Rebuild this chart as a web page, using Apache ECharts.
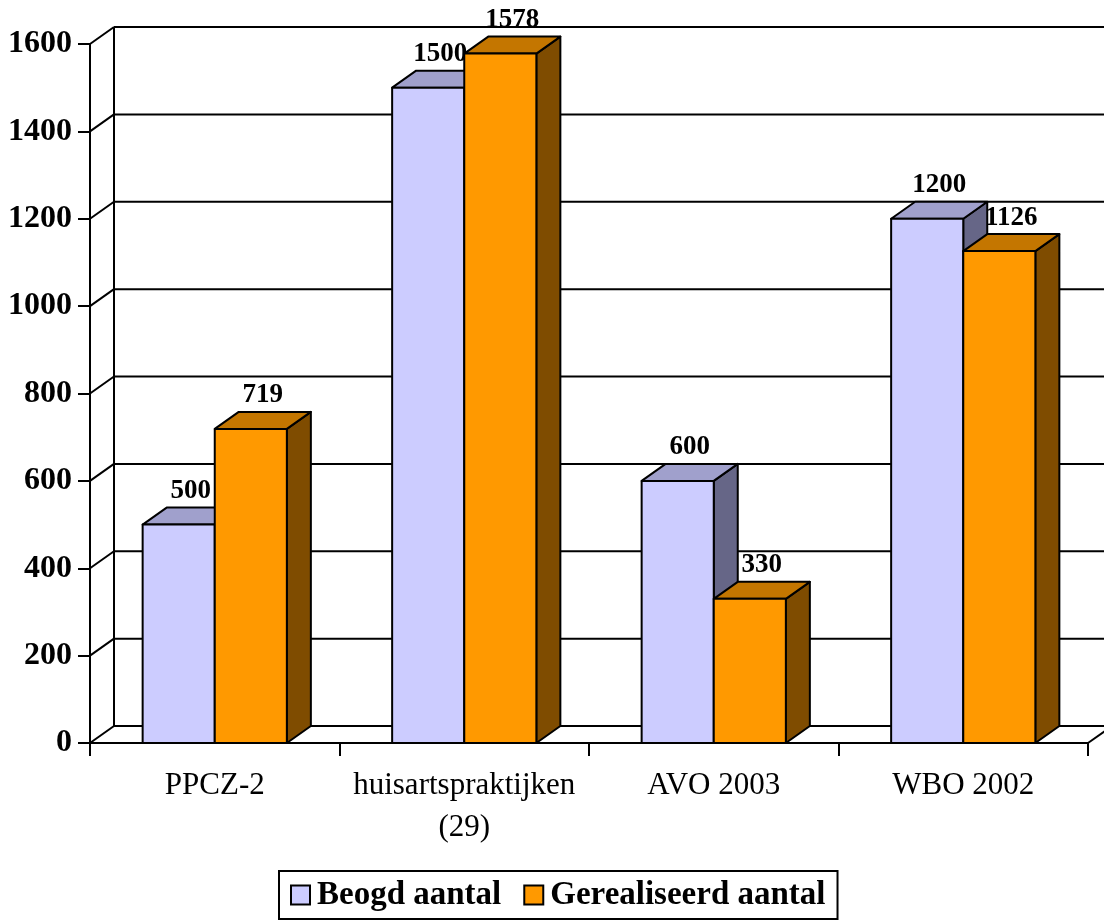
<!DOCTYPE html>
<html>
<head>
<meta charset="utf-8">
<script src="https://cdn.jsdelivr.net/npm/echarts@6/dist/echarts.min.js"></script>
<style>
  html, body { margin: 0; padding: 0; background: #ffffff; }
  #chart { width: 1104px; height: 920px; }
</style>
</head>
<body>
<div id="chart"></div>
<script>
// Categories and values
const categories = ['PPCZ-2', 'huisartspraktijken\n(29)', 'AVO 2003', 'WBO 2002'];
const beoogdAantal = [500, 1500, 600, 1200];
const gerealiseerdAantal = [719, 1578, 330, 1126];
const seriesNames = ['Beogd aantal', 'Gerealiseerd aantal'];
const yMin = 0;
const yMax = 1600;
const yStep = 200;

// Styling for the pseudo-3D look
const FONT = "'Liberation Serif', 'Times New Roman', serif";
const DEPTH_X = 24;     // depth offset of the back wall / bar backs, in px
const DEPTH_Y = -17;
const BAR_RATIO = 0.289; // bar width relative to the category band
const LINE_W = 2;

const palettes = [
  { front: '#CCCCFF', top: '#A0A0CC', side: '#666687' },
  { front: '#FF9900', top: '#C47600', side: '#7F4C00' }
];

const chart = echarts.init(document.getElementById('chart'), null, { renderer: 'canvas' });

// Back wall, left side wall and floor of the 3D frame
function renderFrame(params, api) {
  const cs = params.coordSys;
  const L = cs.x, R = cs.x + cs.width;
  const children = [];
  const line = (x1, y1, x2, y2) => ({
    type: 'line',
    shape: { x1, y1, x2, y2 },
    style: { stroke: '#000', lineWidth: LINE_W }
  });
  const yTop = api.coord([0, yMax])[1];
  const yBot = api.coord([0, yMin])[1];
  for (let v = yMin; v <= yMax; v += yStep) {
    const y = api.coord([0, v])[1];
    children.push(line(L + DEPTH_X, y + DEPTH_Y, R + DEPTH_X, y + DEPTH_Y));
    children.push(line(L, y, L + DEPTH_X, y + DEPTH_Y));
  }
  children.push(line(L + DEPTH_X, yTop + DEPTH_Y, L + DEPTH_X, yBot + DEPTH_Y));
  children.push(line(R, yBot, R + DEPTH_X, yBot + DEPTH_Y));
  children.push(line(R + DEPTH_X, yTop + DEPTH_Y, R + DEPTH_X, yBot + DEPTH_Y));
  return { type: 'group', children };
}

// One 3D bar: front face, top face, right side face and a value label
function makeBarRenderer(slot) {
  const pal = palettes[slot];
  return function (params, api) {
    const cat = api.value(0);
    const val = api.value(1);
    const topPt = api.coord([cat, val]);
    const basePt = api.coord([cat, 0]);
    const band = api.size([1, 0])[0];
    const bw = band * BAR_RATIO;
    const x0 = slot === 0 ? topPt[0] - bw : topPt[0];
    const x1 = x0 + bw;
    const yT = topPt[1];
    const yB = basePt[1];
    const stroke = { stroke: '#000', lineWidth: LINE_W, lineJoin: 'round' };
    return {
      type: 'group',
      children: [
        {
          type: 'polygon',
          shape: { points: [[x1, yT], [x1 + DEPTH_X, yT + DEPTH_Y], [x1 + DEPTH_X, yB + DEPTH_Y], [x1, yB]] },
          style: Object.assign({ fill: pal.side }, stroke)
        },
        {
          type: 'polygon',
          shape: { points: [[x0, yT], [x1, yT], [x1 + DEPTH_X, yT + DEPTH_Y], [x0 + DEPTH_X, yT + DEPTH_Y]] },
          style: Object.assign({ fill: pal.top }, stroke)
        },
        {
          type: 'rect',
          shape: { x: x0, y: yT, width: bw, height: yB - yT },
          style: Object.assign({ fill: pal.front }, stroke)
        },
        {
          type: 'text',
          x: (x0 + x1) / 2 + DEPTH_X / 2,
          y: yT + DEPTH_Y - 3,
          style: {
            text: String(val),
            fill: '#000',
            font: 'bold 27px ' + FONT,
            textAlign: 'center',
            textVerticalAlign: 'bottom'
          }
        }
      ]
    };
  };
}

const barSeries = [beoogdAantal, gerealiseerdAantal].map((values, s) => ({
  name: seriesNames[s],
  type: 'custom',
  clip: false,
  z: 3 + s,
  itemStyle: { color: palettes[s].front },
  encode: { x: 0, y: 1 },
  data: values.map((v, i) => [i, v]),
  renderItem: makeBarRenderer(s)
}));

const option = {
  animation: false,
  backgroundColor: '#ffffff',
  grid: { left: 90, right: 16, top: 44, bottom: 177, containLabel: false },
  xAxis: {
    type: 'category',
    data: categories,
    boundaryGap: true,
    axisLine: { show: true, lineStyle: { color: '#000', width: LINE_W } },
    axisTick: { show: true, length: 13, lineStyle: { color: '#000', width: LINE_W } },
    axisLabel: {
      color: '#000',
      fontFamily: FONT,
      fontSize: 31,
      lineHeight: 42,
      margin: 22,
      interval: 0
    },
    splitLine: { show: false }
  },
  yAxis: {
    type: 'value',
    min: yMin,
    max: yMax,
    interval: yStep,
    axisLine: { show: true, lineStyle: { color: '#000', width: LINE_W } },
    axisTick: { show: true, length: 12, lineStyle: { color: '#000', width: LINE_W } },
    axisLabel: {
      color: '#000',
      fontFamily: FONT,
      fontWeight: 'bold',
      fontSize: 32,
      margin: 18,
      formatter: (v) => String(v)
    },
    splitLine: { show: false }
  },
  legend: {
    left: 279,
    top: 871,
    orient: 'horizontal',
    icon: 'rect',
    itemWidth: 19,
    itemHeight: 19,
    itemGap: 22,
    padding: [6, 12, 6, 11],
    borderColor: '#000',
    borderWidth: 2,
    borderRadius: 0,
    itemStyle: { borderColor: '#000', borderWidth: 2 },
    textStyle: {
      color: '#000',
      fontFamily: FONT,
      fontWeight: 'bold',
      fontSize: 33,
      lineHeight: 36,
      padding: [0, 0, 0, 2]
    },
    data: seriesNames.map((n, s) => ({ name: n, itemStyle: { color: palettes[s].front } }))
  },
  series: [
    {
      type: 'custom',
      name: 'frame',
      clip: false,
      z: 1,
      silent: true,
      encode: { x: 0, y: 1 },
      data: [[0, 0]],
      renderItem: renderFrame
    }
  ].concat(barSeries)
};

chart.setOption(option);
</script>
</body>
</html>
